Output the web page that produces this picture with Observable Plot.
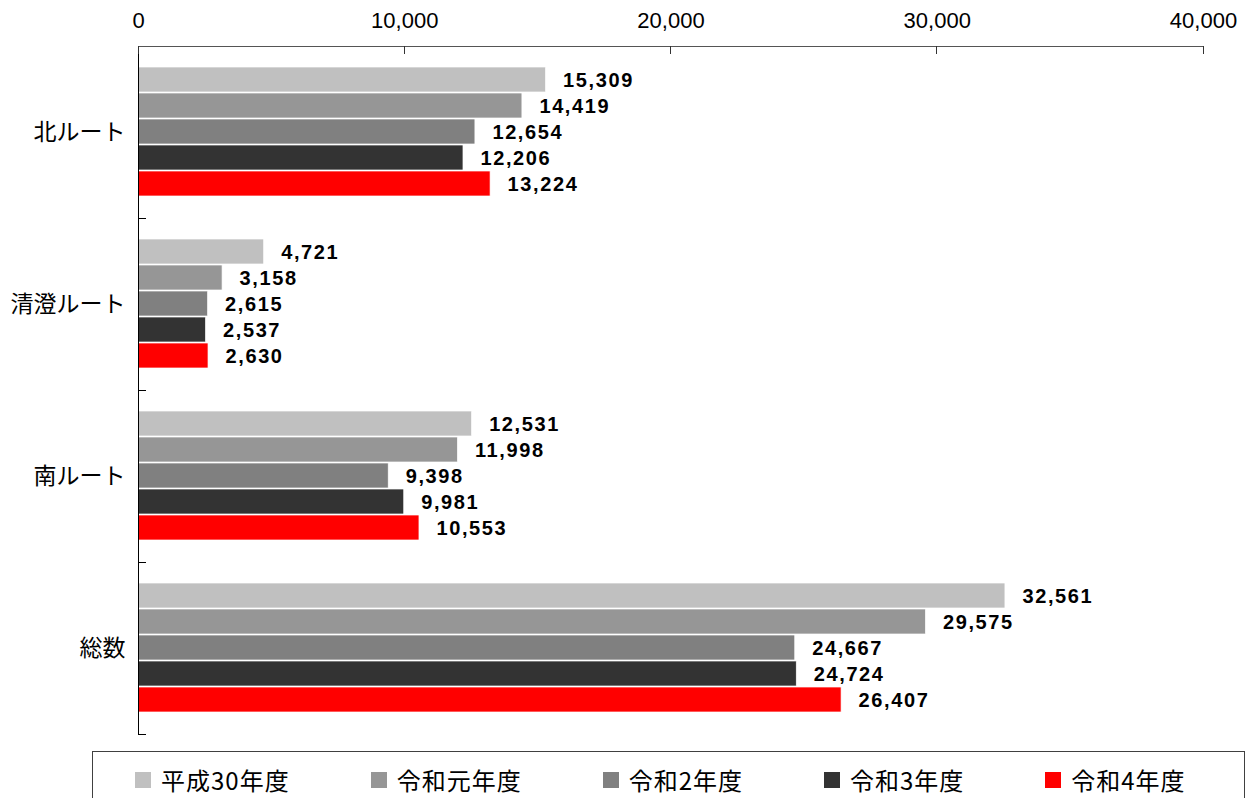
<!DOCTYPE html>
<html>
<head>
<meta charset="utf-8">
<script src="https://cdn.jsdelivr.net/npm/d3@7"></script>
<script src="https://cdn.jsdelivr.net/npm/@observablehq/plot@0.6"></script>
<style>
  html, body { margin: 0; padding: 0; background: #fff; }
  #chart { position: absolute; left: 0; top: 0; }
  svg g[aria-label="text"] text { letter-spacing: 1.6px; }
  #legend {
    position: absolute; left: 92px; top: 751px; width: 1153px; height: 60px;
    border: 1px solid #404040; box-sizing: border-box;
    display: flex; align-items: flex-start; padding-left: 42px; padding-top: 13px;
    font-family: "Noto Sans CJK JP", sans-serif; font-size: 24px; color: #000;
    white-space: nowrap;
  }
  .item { display: flex; align-items: center; flex: none; margin-right: 81px; letter-spacing: 1px; line-height: 30px; white-space: nowrap; }
  .sw { width: 16px; height: 16px; margin-right: 10px; display: inline-block; flex: none; }
</style>
</head>
<body>
<div id="chart"></div>
<div id="legend"></div>
<script>
(function () {
// ---- data ----
const categories = ["北ルート", "清澄ルート", "南ルート", "総数"];
const series = ["平成30年度", "令和元年度", "令和2年度", "令和3年度", "令和4年度"];
const valuesH30 = [15309, 4721, 12531, 32561];
const valuesR1  = [14419, 3158, 11998, 29575];
const valuesR2  = [12654, 2615, 9398, 24667];
const valuesR3  = [12206, 2537, 9981, 24724];
const valuesR4  = [13224, 2630, 10553, 26407];
const xTicks = [0, 10000, 20000, 30000, 40000];
const palette = ["#C0C0C0", "#969696", "#808080", "#333333", "#FF0000"];

const seriesValues = [valuesH30, valuesR1, valuesR2, valuesR3, valuesR4];
const data = [];
categories.forEach((c, i) => {
  series.forEach((s, j) => data.push({category: c, series: s, value: seriesValues[j][i]}));
});
const fmt = d3.format(",");

const plot = Plot.plot({
  width: 1250, height: 748,
  marginLeft: 138, marginRight: 47, marginTop: 45, marginBottom: 13,
  style: {fontFamily: "'Liberation Sans', Arial, sans-serif", background: "white", color: "#000"},
  x: {domain: [0, 40000], label: null},
  y: {domain: series, axis: null, paddingInner: 0.03, paddingOuter: 0.77},
  fy: {domain: categories, padding: 0, label: null},
  color: {domain: series, range: palette},
  marks: [
    Plot.barX(data, {x: "value", y: "series", fy: "category", fill: "series", stroke: "#fff", strokeWidth: 0.7}),
    Plot.text(data, {x: "value", y: "series", fy: "category", text: d => fmt(d.value),
      textAnchor: "start", dx: 17, dy: 1, fontSize: 20, fontWeight: "bold", fill: "#000"}),
    Plot.axisX({anchor: "top", ticks: xTicks, tickSize: 0, tickPadding: 19, tickFormat: fmt, fontSize: 22, fill: "#000", label: null}),
    Plot.axisFy({anchor: "left", tickSize: 0, tickPadding: 13, fontSize: 23, fontFamily: "'Noto Sans CJK JP', sans-serif", fill: "#000", label: null})
  ]
});
document.getElementById("chart").appendChild(plot);

// axis lines and inward ticks drawn with the plot's own scales
const xs = plot.scale("x");
const fys = plot.scale("fy");
const svg = d3.select(plot);
const xa = xs.apply(0), xb = xs.apply(40000);
const yTop = fys.apply(categories[0]);
const bw = fys.bandwidth;
const yBottom = fys.apply(categories[categories.length - 1]) + bw;
const g = svg.append("g").attr("stroke", "#333").attr("stroke-width", 1).attr("shape-rendering", "crispEdges");
g.append("line").attr("x1", xa).attr("x2", xb).attr("y1", yTop).attr("y2", yTop).attr("stroke", "#555");
g.append("line").attr("x1", xa).attr("x2", xa).attr("y1", yTop).attr("y2", yBottom).attr("stroke", "#000");
xTicks.forEach(t => {
  g.append("line").attr("x1", xs.apply(t)).attr("x2", xs.apply(t)).attr("y1", yTop).attr("y2", yTop + 8);
});
categories.forEach(c => {
  const yb = fys.apply(c) + bw;
  g.append("line").attr("x1", xa).attr("x2", xa + 8).attr("y1", yb).attr("y2", yb).attr("stroke", "#000");
});

// legend
const legend = d3.select("#legend");
series.forEach((s, j) => {
  const it = legend.append("div").attr("class", "item");
  it.append("span").attr("class", "sw").style("background", palette[j]);
  it.append("span").text(s);
});
})();
</script>
</body>
</html>
